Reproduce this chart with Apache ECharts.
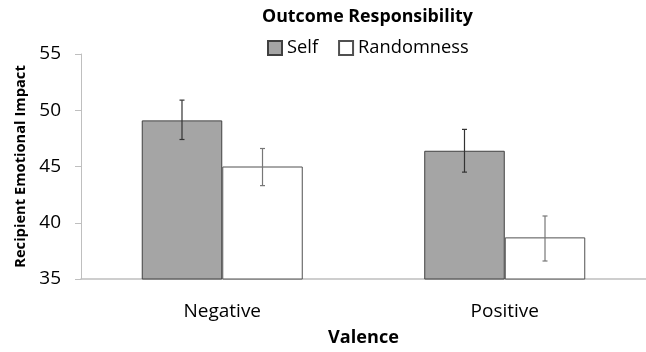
<!DOCTYPE html>
<html><head><meta charset="utf-8">
<script src="https://cdn.jsdelivr.net/npm/echarts@6/dist/echarts.min.js"></script>
<style>html,body{margin:0;padding:0;background:#fff}#c{width:646px;height:352px}</style>
</head><body><div id="c"></div>
<script>
const categories = ['Negative', 'Positive'];
const selfValues = [49.1, 46.4];
const selfLow = [47.4, 44.5];
const selfHigh = [50.9, 48.3];
const randValues = [45.0, 38.7];
const randLow = [43.3, 36.6];
const randHigh = [46.6, 40.6];
const yTicks = [35, 40, 45, 50, 55];

const FONT = 'Open Sans';
const GAP = 0.43;

function errSeries(name, low, high, side, color) {
  return {
    type: 'custom', name: name + ' err', silent: true, z: 5,
    data: categories.map((c, i) => [i, low[i], high[i]]),
    renderItem: function (params, api) {
      const band = api.size([1, 0])[0];
      const bw = band * (1 - GAP) / 2;
      const x = api.coord([api.value(0), 0])[0] + side * bw / 2;
      const yl = api.coord([0, api.value(1)])[1];
      const yh = api.coord([0, api.value(2)])[1];
      const cap = 2.5;
      const st = { stroke: color, lineWidth: 1.2 };
      return { type: 'group', children: [
        { type: 'line', shape: { x1: x, y1: yl, x2: x, y2: yh }, style: st },
        { type: 'line', shape: { x1: x - cap, y1: yl, x2: x + cap, y2: yl }, style: st },
        { type: 'line', shape: { x1: x - cap, y1: yh, x2: x + cap, y2: yh }, style: st }
      ]};
    }
  };
}

const chart = echarts.init(document.getElementById('c'));
chart.setOption({
  animation: false,
  textStyle: { fontFamily: FONT },
  title: {
    text: 'Outcome Responsibility', left: 257, top: 3,
    textStyle: { fontFamily: FONT, fontSize: 17.8, fontWeight: 'bold', color: '#000' }
  },
  legend: {
    data: ['Self', 'Randomness'], left: 262, top: 34, icon: 'rect',
    itemWidth: 14, itemHeight: 14, itemGap: 20,
    textStyle: { fontFamily: FONT, fontSize: 18.3, color: '#000', padding: [0, 0, 0, 0] }
  },
  grid: { left: 81, top: 54, width: 566, bottom: 72, containLabel: false },
  xAxis: {
    type: 'category', data: categories,
    name: 'Valence', nameLocation: 'middle', nameGap: 50,
    nameTextStyle: { fontFamily: FONT, fontSize: 18.1, fontWeight: 'bold', color: '#000' },
    axisLine: { lineStyle: { color: '#bfbfbf', width: 1.5 } },
    axisTick: { show: false },
    axisLabel: { fontFamily: FONT, fontSize: 19, color: '#000', margin: 23 }
  },
  yAxis: {
    type: 'value', min: yTicks[0], max: yTicks[yTicks.length - 1], interval: 5,
    name: 'Recipient Emotional Impact', nameLocation: 'middle', nameGap: 48,
    nameTextStyle: { fontFamily: FONT, fontSize: 14.7, fontWeight: 'bold', color: '#000' },
    axisLine: { show: true, lineStyle: { color: '#bfbfbf' } },
    axisTick: { show: true, length: 6, lineStyle: { color: '#bfbfbf' } },
    splitLine: { show: false },
    axisLabel: { fontFamily: FONT, fontSize: 19, color: '#000', margin: 20 }
  },
  series: [
    { name: 'Self', type: 'bar', data: selfValues, barGap: '0%', barCategoryGap: '43%',
      itemStyle: { color: '#a5a5a5', borderColor: '#404040', borderWidth: 1 } },
    { name: 'Randomness', type: 'bar', data: randValues, barGap: '0%', barCategoryGap: '43%',
      itemStyle: { color: '#ffffff', borderColor: '#505050', borderWidth: 1 } },
    errSeries('Self', selfLow, selfHigh, -1, '#333333'),
    errSeries('Randomness', randLow, randHigh, 1, '#777777')
  ]
});
</script></body></html>
